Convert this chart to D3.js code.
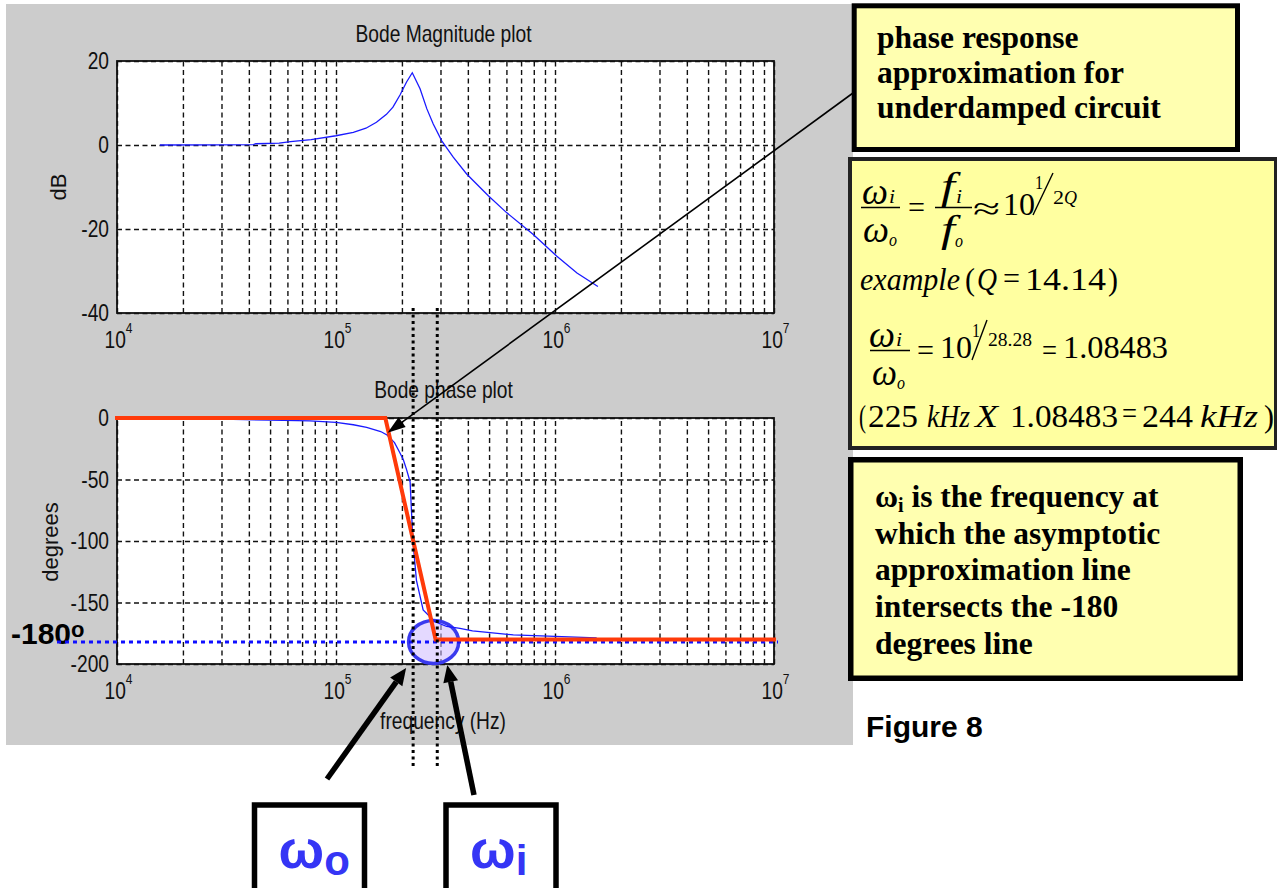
<!DOCTYPE html>
<html>
<head>
<meta charset="utf-8">
<script src="https://cdn.jsdelivr.net/npm/d3@7"></script>
<style>
  html, body { margin: 0; padding: 0; background: #ffffff; }
  svg { display: block; }
</style>
</head>
<body>
<svg id="fig" width="1277" height="888"></svg>
<script>
// ---- Magnitude response of the underdamped circuit (Hz, dB) ----
const magFreq = [15700, 30000, 42000, 43000, 55000, 62000, 77000, 100000, 120000, 137000,
                 153000, 170000, 182000, 196000, 210000, 223000, 242000, 260000, 278000,
                 304000, 343000, 395000, 496000, 601000, 796000, 1020000, 1260000, 1570000];
const magDb   = [0, 0.05, 0.1, 0.3, 0.45, 0.8, 1.3, 2.2, 3.0, 4.0,
                 5.4, 7.3, 9.0, 11.9, 15.0, 17.2, 13.4, 8.6, 5.0,
                 1.0, -2.9, -6.9, -12.1, -16.1, -21.3, -26.5, -30.5, -33.7];

// ---- Phase response (Hz, degrees) ----
const phaseFreq = [15700, 30000, 50000, 76000, 100000, 120000, 138000, 160000, 171000, 185000,
                   196000, 203000, 210000, 218000, 221000, 225000, 233000, 250000, 283000,
                   320000, 368000, 420000, 645000, 1000000, 1550000];
const phaseDeg  = [0, -0.8, -1.8, -2.4, -3.5, -5.5, -7.6, -11, -13.8, -20,
                   -28.5, -34, -42, -52, -75, -102, -132, -156, -165.6,
                   -169.5, -171, -173, -176.4, -177.5, -178.8];

// ---- Straight-line (asymptotic) phase approximation ----
const asymFreq = [10000, 168000, 285000, 10000000];
const asymDeg  = [0, 0, -180, -180];

// ---- Marker frequencies: ωo and ωi ----
const markerFreq = [225000, 290000];
const refPhase = -180;

// ---- Axis ticks ----
const xTickExp   = [4, 5, 6, 7];
const magTicks   = [20, 0, -20, -40];
const phaseTicks = [0, -50, -100, -150, -200];

const svg = d3.select('#fig');
const SANS = "'Liberation Sans', Arial, Helvetica, sans-serif";
const SERIF = "'Liberation Serif', 'Times New Roman', Times, serif";
const SQX = 0.8; // horizontal squeeze of the plot lettering

// grey figure window
svg.append('rect').attr('x', 6).attr('y', 4).attr('width', 847).attr('height', 741).attr('fill', '#cccccc');

const x = d3.scaleLog().domain([1e4, 1e7]).range([117, 774]);
const yM = d3.scaleLinear().domain([-40, 20]).range([313, 61]);
const yP = d3.scaleLinear().domain([-200, 0]).range([664, 418]);

const gridX = [];
for (let e = 4; e < 7; e++) for (let m = 1; m <= 9; m++) gridX.push(m * Math.pow(10, e));
gridX.push(1e7);

function squeezedText(g, tx, ty, str, size, anchor) {
  return g.append('text')
    .attr('transform', `translate(${tx},${ty}) scale(${SQX},1)`)
    .attr('text-anchor', anchor || 'middle')
    .attr('font-family', SANS).attr('font-size', size).attr('fill', '#111')
    .text(str);
}

function panel(y, ticks, title, titleY) {
  const [bottom, top] = y.range();
  const left = x.range()[0], right = x.range()[1];
  const g = svg.append('g');
  g.append('rect').attr('x', left).attr('y', top).attr('width', right - left).attr('height', bottom - top).attr('fill', '#ffffff');

  // vertical grid
  const gv = g.append('g').attr('transform', `translate(0,${bottom})`)
    .call(d3.axisBottom(x).tickValues(gridX).tickSize(-(bottom - top)).tickFormat(''));
  gv.select('.domain').remove();
  gv.selectAll('line').attr('stroke', '#111').attr('stroke-width', 1.4).attr('stroke-dasharray', '5,3.5');

  // horizontal grid
  const gh = g.append('g').attr('transform', `translate(${left},0)`)
    .call(d3.axisLeft(y).tickValues(ticks).tickSize(-(right - left)).tickFormat(''));
  gh.select('.domain').remove();
  gh.selectAll('line').attr('stroke', '#111').attr('stroke-width', 1.4).attr('stroke-dasharray', '5,3.5');

  // frame
  g.append('rect').attr('x', left).attr('y', top).attr('width', right - left).attr('height', bottom - top)
    .attr('fill', 'none').attr('stroke', '#111').attr('stroke-width', 1.8);

  // y tick labels
  const ya = g.append('g').attr('transform', `translate(${left},0)`)
    .call(d3.axisLeft(y).tickValues(ticks).tickSize(0).tickPadding(8).tickFormat(d => String(d)));
  ya.select('.domain').remove();
  ya.selectAll('text')
    .attr('font-family', SANS).attr('font-size', 24).attr('fill', '#111')
    .attr('x', -8 / SQX).attr('dy', '0.33em')
    .attr('transform', `scale(${SQX},1)`);

  // x tick labels: powers of ten
  const xa = g.append('g').attr('transform', `translate(0,${bottom})`)
    .call(d3.axisBottom(x).tickValues(xTickExp.map(e => Math.pow(10, e))).tickSize(0).tickFormat(''));
  xa.select('.domain').remove();
  xa.selectAll('.tick').each(function (d) {
    const t = d3.select(this).append('text')
      .attr('transform', `translate(-13,35) scale(${SQX},1)`)
      .attr('text-anchor', 'start').attr('font-family', SANS).attr('font-size', 24).attr('fill', '#111');
    t.append('tspan').text('10');
    t.append('tspan').attr('font-size', 15).attr('dy', -15).text(String(Math.round(Math.log10(d))));
  });

  squeezedText(svg, (left + right) / 2 - 2, titleY, title, 24);
  return g;
}

// ---------- magnitude plot ----------
panel(yM, magTicks, 'Bode Magnitude plot', 42);
svg.append('text')
  .attr('transform', 'translate(66,187) rotate(-90)')
  .attr('text-anchor', 'middle').attr('font-family', SANS).attr('font-size', 22).attr('fill', '#111').text('dB');

const magLine = d3.line().x((d, i) => x(magFreq[i])).y(d => yM(d));
svg.append('path').attr('d', magLine(magDb)).attr('fill', 'none').attr('stroke', '#1a1aff').attr('stroke-width', 1.3);

// ---------- phase plot ----------
panel(yP, phaseTicks, 'Bode phase plot', 398);
svg.append('text')
  .attr('transform', 'translate(58,542) rotate(-90)')
  .attr('text-anchor', 'middle').attr('font-family', SANS).attr('font-size', 22).attr('fill', '#111').text('degrees');
squeezedText(svg, 443, 729, 'frequency (Hz)', 24);

// "-180°" label
const lbl = svg.append('text').attr('x', 11).attr('y', 644)
  .attr('font-family', SANS).attr('font-weight', 'bold').attr('font-size', 30).attr('fill', '#000');
lbl.append('tspan').text('-180');
lbl.append('tspan').attr('font-size', 22).attr('dy', -7).text('o');

// highlight around the intersection
svg.append('ellipse')
  .attr('cx', x(asymFreq[2]) - 2).attr('cy', yP(asymDeg[2]) + 2.5)
  .attr('rx', 25).attr('ry', 21.5)
  .attr('fill', 'rgba(205,185,255,0.55)').attr('stroke', '#3a3aee').attr('stroke-width', 3.5);

const phaseLine = d3.line().x((d, i) => x(phaseFreq[i])).y(d => yP(d));
svg.append('path').attr('d', phaseLine(phaseDeg)).attr('fill', 'none').attr('stroke', '#1a1aff').attr('stroke-width', 1.3);

// -180 degree reference (dotted blue)
svg.append('line')
  .attr('x1', 57).attr('x2', 778).attr('y1', yP(refPhase) + 2.5).attr('y2', yP(refPhase) + 2.5)
  .attr('stroke', '#1010ff').attr('stroke-width', 3).attr('stroke-dasharray', '4,4');

// asymptotic approximation (red)
const asymLine = d3.line().x((d, i) => x(asymFreq[i])).y(d => yP(d));
svg.append('path').attr('d', asymLine(asymDeg)).attr('fill', 'none')
  .attr('stroke', '#ff3a0a').attr('stroke-width', 4).attr('stroke-linejoin', 'miter').attr('stroke-linecap', 'square');

// vertical dotted markers at ωo and ωi
markerFreq.forEach(f => {
  svg.append('line')
    .attr('x1', x(f)).attr('x2', x(f)).attr('y1', 308).attr('y2', 769)
    .attr('stroke', '#000').attr('stroke-width', 3).attr('stroke-dasharray', '3,3.5');
});

// ---------- arrows ----------
function arrow(x1, y1, x2, y2, sw, hl, hw) {
  const a = Math.atan2(y2 - y1, x2 - x1);
  const bx = x2 - hl * Math.cos(a), by = y2 - hl * Math.sin(a);
  svg.append('line').attr('x1', x1).attr('y1', y1).attr('x2', bx).attr('y2', by)
    .attr('stroke', '#000').attr('stroke-width', sw);
  const px = -Math.sin(a) * hw / 2, py = Math.cos(a) * hw / 2;
  svg.append('path').attr('d', `M${x2},${y2}L${bx + px},${by + py}L${bx - px},${by - py}Z`).attr('fill', '#000');
}
arrow(853, 93, x(172000), yP(-12), 1.6, 18, 12);
arrow(327, 779, x(markerFreq[0]) - 7, yP(-200) + 4, 5.5, 17, 15);
arrow(474, 795, x(markerFreq[1]) + 10, yP(-200) + 1, 5.5, 17, 15);

// ---------- ω boxes ----------
function omegaBox(bx, sub) {
  svg.append('rect').attr('x', bx).attr('y', 805).attr('width', 110).attr('height', 100)
    .attr('fill', '#ffffff').attr('stroke', '#000').attr('stroke-width', 5.5);
  const t = svg.append('text').attr('x', bx + 24).attr('y', 868)
    .attr('font-family', SANS).attr('font-weight', 'bold').attr('font-size', 54).attr('fill', '#3535f5');
  t.append('tspan').text('ω');
  t.append('tspan').attr('font-size', 42).attr('dy', 7).text(sub);
}
omegaBox(254.5, 'o');
omegaBox(446, 'i');

// ---------- text boxes ----------
function box(x0, y0, w, h, sw, stroke, fill) {
  svg.append('rect').attr('x', x0).attr('y', y0).attr('width', w).attr('height', h)
    .attr('fill', fill).attr('stroke', stroke).attr('stroke-width', sw);
}
function serifLines(x0, y0, step, lines) {
  lines.forEach((ln, i) => {
    const t = svg.append('text').attr('x', x0).attr('y', y0 + i * step)
      .attr('font-family', SERIF).attr('font-weight', 'bold').attr('font-size', 31.5).attr('fill', '#000');
    ln.forEach(p => {
      const s = t.append('tspan').text(p.t);
      if (p.sub) s.attr('font-size', 20).attr('dy', 5);
      if (p.up) s.attr('dy', -5);
    });
  });
}

box(854.2, 5.8, 383.3, 143.7, 5, '#000', '#ffffb0');
serifLines(877, 48, 35, [
  [{ t: 'phase response' }],
  [{ t: 'approximation for' }],
  [{ t: 'underdamped circuit' }]
]);

box(850, 159, 426, 289, 4, '#222', '#ffffa0');
// a piece of the formula fitted between x0 and x1
function T(x0, x1, y0, str, size, italic) {
  return svg.append('text').attr('x', x0).attr('y', y0)
    .attr('font-family', SERIF).attr('font-size', size)
    .attr('font-style', italic ? 'italic' : 'normal')
    .attr('textLength', x1 - x0).attr('lengthAdjust', 'spacingAndGlyphs')
    .attr('fill', '#000').text(str);
}
function bar(x1, x2, y) {
  svg.append('line').attr('x1', x1).attr('x2', x2).attr('y1', y).attr('y2', y).attr('stroke', '#000').attr('stroke-width', 1.5);
}
function slash(x1, y1, x2, y2) {
  svg.append('line').attr('x1', x1).attr('y1', y1).attr('x2', x2).attr('y2', y2).attr('stroke', '#000').attr('stroke-width', 1.4);
}
// ωi/ωo = fi/fo ≈ 10^(1/2Q)
bar(861, 900, 207.5);
T(862, 888, 204, 'ω', 38, true); T(889, 895, 203, 'i', 19, true);
T(863, 889, 242, 'ω', 38, true); T(889, 897, 246, 'o', 19, true);
T(908, 925, 218, '=', 31, false);
bar(935, 972, 207.5);
T(941, 955, 199, 'f', 38, true); T(956, 962, 203, 'i', 19, true);
T(941, 955, 242, 'f', 38, true); T(955, 963, 247, 'o', 19, true);
T(973, 1000, 219, '≈', 31, false);
T(1003, 1035, 215, '10', 31, false);
T(1035, 1043, 189, '1', 18, false);
slash(1033, 215, 1053, 173);
T(1053, 1064, 204, '2', 18, false);
T(1064, 1077, 204, 'Q', 18, true);

// example (Q = 14.14)
T(860, 960, 290, 'example', 31, true);
T(965, 975, 290, '(', 31, false);
T(977, 997, 290, 'Q', 31, true);
T(1003, 1020, 289, '=', 31, false);
T(1025, 1106, 290, '14.14', 31, false);
T(1108, 1118, 290, ')', 31, false);

// ωi/ωo = 10^(1/28.28) = 1.08483
bar(870, 910, 350.5);
T(869, 895, 347, 'ω', 38, true); T(896, 902, 346, 'i', 19, true);
T(872, 897, 385, 'ω', 38, true); T(897, 905, 389, 'o', 19, true);
T(917, 934, 361, '=', 31, false);
T(940, 972, 358, '10', 31, false);
T(972, 980, 337, '1', 18, false);
slash(972, 360, 987, 320);
T(988, 1032, 346, '28.28', 19, false);
T(1042, 1057, 361, '=', 31, false);
T(1063, 1168, 358, '1.08483', 32, false);

// (225 kHz X 1.08483 = 244 kHz)
T(859, 866, 427, '(', 32, false);
T(868, 918, 427, '225', 32, false);
T(927, 970, 427, 'kHz', 32, true);
T(975, 998, 427, 'X', 32, true);
T(1010, 1118, 427, '1.08483', 32, false);
T(1122, 1137, 424, '=', 32, false);
T(1142, 1193, 427, '244', 32, false);
T(1200, 1258, 427, 'kHz', 32, true);
T(1264, 1274, 427, ')', 32, false);

box(850.75, 459.75, 389.5, 218.5, 5.5, '#000', '#ffffb0');
serifLines(875, 507, 36.7, [
  [{ t: 'ω' }, { t: 'i', sub: true }, { t: ' is the frequency at', up: true }],
  [{ t: 'which the asymptotic' }],
  [{ t: 'approximation line' }],
  [{ t: 'intersects the -180' }],
  [{ t: 'degrees line' }]
]);

svg.append('text').attr('x', 866).attr('y', 737)
  .attr('font-family', SANS).attr('font-weight', 'bold').attr('font-size', 30).attr('fill', '#000')
  .text('Figure 8');
</script>
</body>
</html>
